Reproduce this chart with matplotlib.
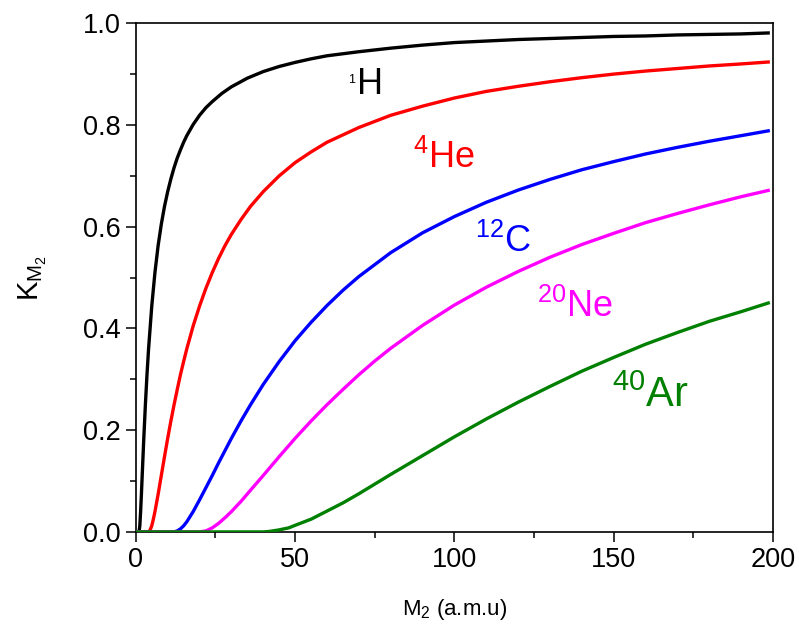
import matplotlib
matplotlib.use('Agg')
import matplotlib.pyplot as plt
from matplotlib.ticker import MultipleLocator, FormatStrFormatter

plt.rcParams['font.family'] = ['Liberation Sans', 'DejaVu Sans']
plt.rcParams['mathtext.default'] = 'regular'

###Kinematic factor vs target mass, one curve per projectile

m2_h = [0, 1, 1.25, 1.5, 1.75, 2, 2.5, 3, 3.5, 4, 5, 6, 7, 8, 9, 10, 11, 12, 13, 14,
        15, 16, 18, 20, 22, 24, 27, 30, 35, 40, 45, 50, 55, 60, 70, 80, 90, 100, 110,
        120, 130, 140, 150, 160, 170, 180, 190, 199]
k_h = [0, 0, 0.012, 0.040, 0.074, 0.111, 0.184, 0.250, 0.309, 0.360, 0.444, 0.510,
       0.563, 0.605, 0.640, 0.669, 0.694, 0.716, 0.735, 0.751, 0.766, 0.779, 0.801,
       0.819, 0.834, 0.846, 0.862, 0.875, 0.892, 0.905, 0.915, 0.923, 0.930, 0.936,
       0.944, 0.951, 0.957, 0.962, 0.965, 0.968, 0.970, 0.972, 0.974, 0.975, 0.977,
       0.978, 0.979, 0.981]

m2_he = [0, 4, 4.5, 5, 5.5, 6, 7, 8, 9, 10, 11, 12, 13, 14, 15, 16, 18, 20, 22, 24,
         26, 28, 30, 33, 36, 40, 45, 50, 55, 60, 70, 80, 90, 100, 110, 120, 130, 140,
         150, 160, 170, 180, 190, 199]
k_he = [0, 0, 0.004, 0.012, 0.025, 0.040, 0.074, 0.111, 0.148, 0.184, 0.218, 0.250,
        0.280, 0.309, 0.335, 0.360, 0.405, 0.444, 0.479, 0.510, 0.538, 0.563, 0.585,
        0.614, 0.640, 0.669, 0.700, 0.726, 0.747, 0.766, 0.795, 0.819, 0.837, 0.853,
        0.866, 0.876, 0.885, 0.893, 0.900, 0.906, 0.911, 0.916, 0.920, 0.924]

m2_c = [0, 12, 13, 14, 15, 16, 18, 20, 22, 24, 26, 28, 30, 33, 36, 40, 45, 50, 55,
        60, 65, 70, 80, 90, 100, 110, 120, 130, 140, 150, 160, 170, 180, 190, 199]
k_c = [0, 0, 0.002, 0.006, 0.012, 0.020, 0.040, 0.063, 0.087, 0.111, 0.136, 0.160,
       0.184, 0.218, 0.250, 0.290, 0.335, 0.376, 0.412, 0.445, 0.475, 0.502, 0.549,
       0.588, 0.620, 0.648, 0.672, 0.693, 0.712, 0.728, 0.743, 0.756, 0.768, 0.779,
       0.789]

m2_ne = [0, 20, 21, 22, 24, 26, 28, 30, 33, 36, 40, 45, 50, 55, 60, 65, 70, 75, 80,
         90, 100, 110, 120, 130, 140, 150, 160, 170, 180, 190, 199]
k_ne = [0, 0, 0.001, 0.002, 0.008, 0.017, 0.028, 0.040, 0.060, 0.082, 0.111, 0.148,
        0.184, 0.218, 0.250, 0.280, 0.309, 0.336, 0.361, 0.406, 0.446, 0.481, 0.512,
        0.540, 0.565, 0.587, 0.608, 0.626, 0.643, 0.659, 0.672]

m2_ar = [0, 40, 42, 45, 48, 50, 55, 60, 65, 70, 75, 80, 90, 100, 110, 120, 130, 140,
         150, 160, 170, 180, 190, 199]
k_ar = [0, 0, 0.001, 0.004, 0.008, 0.013, 0.025, 0.041, 0.057, 0.075, 0.094, 0.113,
        0.150, 0.187, 0.222, 0.255, 0.286, 0.316, 0.343, 0.369, 0.392, 0.414, 0.433,
        0.451]

curves = [
    (m2_h, k_h, 'black'),
    (m2_he, k_he, '#ff0000'),
    (m2_c, k_c, '#0000ff'),
    (m2_ne, k_ne, '#ff00ff'),
    (m2_ar, k_ar, '#008000'),
]

##Labels: (text, x, y, colour, size)
labels = [
    ('$^{4}$He', 87, 0.716, '#ff0000', 26),
    ('$^{12}$C', 106.4, 0.551, '#0000ff', 26),
    ('$^{20}$Ne', 125.8, 0.423, '#ff00ff', 26),
    ('$^{40}$Ar', 149.3, 0.246, '#008000', 30),
]

fig = plt.figure(figsize=(7.99, 6.28), dpi=100)
ax = fig.add_axes([0.170, 0.153, 0.7975, 0.810])

for x, y, c in curves:
    ax.plot(x, y, color=c, lw=2.4, zorder=3, solid_capstyle='butt',
            solid_joinstyle='round')

#1H label has a tiny superscript, drawn as two pieces
ax.text(69.4, 0.861, 'H', color='black', fontsize=26, ha='left', va='baseline')
ax.text(66.6, 0.883, '1', color='black', fontsize=9, ha='left', va='baseline')
for t, x, y, c, s in labels:
    ax.text(x, y, t, color=c, fontsize=s, ha='left', va='baseline')

ax.set_xlim(0, 200)
ax.set_ylim(0, 1.0)
ax.xaxis.set_major_locator(MultipleLocator(50))
ax.xaxis.set_minor_locator(MultipleLocator(25))
ax.yaxis.set_major_locator(MultipleLocator(0.2))
ax.yaxis.set_minor_locator(MultipleLocator(0.1))
ax.yaxis.set_major_formatter(FormatStrFormatter('%.1f'))

ax.tick_params(which='major', direction='out', length=7, width=1.1, labelsize=19.5, pad=4)
ax.tick_params(which='minor', direction='out', length=4, width=1.1)
ax.tick_params(top=False, right=False)
for s in ax.spines.values():
    s.set_linewidth(1.2)

ax.set_xlabel('M$_2$ (a.m.u)', fontsize=16, labelpad=17)
ax.set_ylabel('K$_{M_2}$', fontsize=21, labelpad=24)

plt.savefig('out.png', dpi=100)
